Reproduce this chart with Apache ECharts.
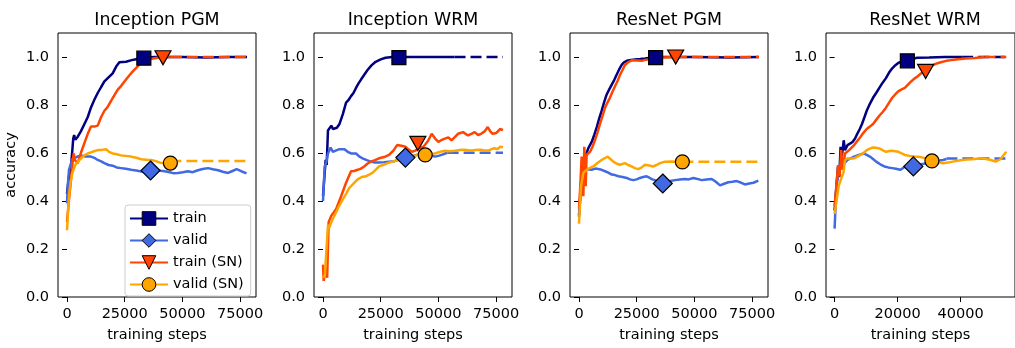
<!DOCTYPE html>
<html><head><meta charset="utf-8">
<script src="https://cdn.jsdelivr.net/npm/echarts@6/dist/echarts.min.js"></script>
<style>html,body{margin:0;padding:0;background:#fff}#c{width:1015px;height:348px}</style>
</head><body><div id="c"></div>
<script>
// ---------- data (training step, accuracy) ----------
const titles = ['Inception PGM', 'Inception WRM', 'ResNet PGM', 'ResNet WRM'];
const seriesNames = ['train', 'valid', 'train (SN)', 'valid (SN)'];
const xTicksLong = [0, 25000, 50000, 75000];
const xTicksShort = [0, 20000, 40000];
const yTicks = [0, 0.2, 0.4, 0.6, 0.8, 1.0];
const xRangeLong = [-3900, 81900];
const xRangeShort = [-2727, 57270];

// Inception PGM
const ipTrain = [[0,0.43],[800,0.5],[1600,0.53],[2300,0.61],[2700,0.66],[3100,0.675],[3600,0.655],[4600,0.667],[6000,0.69],[7500,0.72],[9000,0.75],[10400,0.79],[11900,0.823],[13300,0.85],[14800,0.875],[16200,0.898],[18000,0.915],[19800,0.932],[21300,0.96],[22700,0.978],[25600,0.98],[28000,0.987],[30000,0.991],[32000,0.995],[34000,0.998],[38000,1.0],[50000,1.0],[60000,0.998],[70000,1.0],[78000,1.0]];
const ipTrainExt = null;
const ipValid = [[0,0.39],[400,0.47],[850,0.53],[1500,0.55],[2300,0.575],[3200,0.578],[4500,0.585],[6100,0.59],[8000,0.585],[10400,0.585],[11800,0.58],[13300,0.571],[14800,0.565],[16200,0.558],[18000,0.55],[19800,0.547],[21500,0.54],[23500,0.537],[25500,0.534],[27800,0.53],[30000,0.527],[32200,0.523],[34500,0.52],[37000,0.522],[39500,0.527],[42300,0.524],[44500,0.52],[46000,0.516],[48100,0.517],[50200,0.52],[52400,0.524],[54500,0.52],[56700,0.528],[58800,0.533],[61100,0.537],[63200,0.532],[65500,0.528],[67500,0.522],[69800,0.517],[71700,0.525],[73500,0.533],[75500,0.524],[77800,0.515]];
const ipValidExt = null;
const ipTrainSN = [[0,0.312],[800,0.4],[1600,0.476],[2300,0.55],[2900,0.598],[3500,0.57],[4600,0.557],[6000,0.6],[7500,0.64],[9000,0.68],[10400,0.71],[11800,0.71],[13300,0.714],[14800,0.75],[16200,0.776],[17500,0.79],[19100,0.817],[20500,0.84],[22000,0.864],[23500,0.88],[24900,0.898],[26700,0.92],[28500,0.94],[30000,0.955],[31400,0.969],[33000,0.98],[35000,0.99],[37900,0.995],[40000,0.998],[45000,1.0]];
const ipTrainSNExt = [[45000,1.0],[78000,1.0]];
const ipValidSN = [[0,0.278],[850,0.42],[1600,0.48],[2300,0.517],[3600,0.55],[4800,0.565],[6100,0.578],[7500,0.59],[9000,0.598],[11000,0.605],[13300,0.612],[15000,0.613],[16900,0.616],[18200,0.605],[19800,0.598],[21500,0.595],[23500,0.59],[25500,0.588],[27800,0.585],[30000,0.58],[32200,0.574],[34500,0.572],[36500,0.571],[38500,0.566],[40900,0.558],[42500,0.558],[44800,0.558]];
const ipValidSNExt = [[44800,0.567],[78000,0.567]];

// Inception WRM
const iwTrain = [[0,0.42],[600,0.5],[1150,0.571],[1600,0.55],[2150,0.694],[2800,0.69],[3600,0.714],[4300,0.7],[5000,0.70],[6000,0.705],[7150,0.721],[8600,0.762],[10000,0.81],[11000,0.82],[12150,0.837],[13200,0.85],[14300,0.871],[15400,0.89],[16400,0.905],[17800,0.925],[19300,0.946],[21000,0.965],[22800,0.98],[25000,0.99],[27100,0.997],[30000,1.0],[57000,1.0]];
const iwTrainExt = [[57000,1.0],[78000,1.0]];
const iwValid = [[0,0.40],[730,0.544],[1400,0.56],[2150,0.598],[3300,0.623],[4300,0.605],[5500,0.61],[7150,0.616],[9300,0.616],[10700,0.605],[12150,0.598],[14300,0.598],[15800,0.585],[17100,0.578],[19000,0.57],[20700,0.564],[22500,0.56],[24300,0.56],[26500,0.562],[28600,0.564],[31000,0.566],[33500,0.575],[35700,0.581],[38000,0.585],[40500,0.592],[42800,0.598],[45000,0.595],[46800,0.59],[48500,0.585],[50000,0.588],[51400,0.592],[53500,0.6],[54000,0.601]];
const iwValidExt = [[54000,0.601],[78000,0.601]];
const iwTrainSN = [[0,0.135],[300,0.067],[800,0.1],[1150,0.115],[1800,0.08],[2440,0.312],[3600,0.339],[5700,0.367],[7900,0.421],[10000,0.476],[12150,0.524],[13500,0.525],[15000,0.53],[16400,0.535],[17850,0.544],[19200,0.555],[20700,0.564],[22500,0.57],[24300,0.578],[26500,0.583],[28600,0.592],[30500,0.61],[32100,0.633],[34000,0.63],[35700,0.626],[37000,0.615],[38500,0.605],[40000,0.61],[41500,0.62],[43500,0.626],[45500,0.65],[47100,0.68],[48600,0.66],[50000,0.646],[51500,0.655],[52800,0.66],[54300,0.665],[55700,0.653],[57000,0.665],[58500,0.68],[60700,0.687],[62800,0.673],[64300,0.68],[65700,0.687],[67200,0.675],[68500,0.68],[70000,0.69],[71400,0.708],[72500,0.69],[73500,0.68],[75000,0.683],[76800,0.70],[78000,0.695]];
const iwTrainSNExt = null;
const iwValidSN = [[0,0.08],[800,0.09],[1600,0.085],[2150,0.3],[2800,0.29],[3600,0.312],[4500,0.33],[5700,0.353],[7000,0.38],[8600,0.408],[10000,0.43],[11400,0.455],[13000,0.47],[15000,0.49],[16800,0.5],[18600,0.503],[20000,0.51],[21400,0.517],[22800,0.53],[24300,0.544],[26500,0.552],[28600,0.56],[30500,0.565],[32800,0.571],[35000,0.578],[37100,0.585],[39000,0.588],[41400,0.592],[44300,0.592],[46500,0.596],[48500,0.598],[50500,0.604],[52800,0.609],[55000,0.607],[57100,0.609],[59000,0.612],[61400,0.614],[63500,0.61],[65700,0.612],[68500,0.614],[70000,0.61],[72100,0.612],[74200,0.62],[75500,0.616],[76800,0.626],[78000,0.624]];
const iwValidSNExt = null;

// ResNet PGM
const rpTrain = [[0,0.34],[600,0.42],[1150,0.503],[1900,0.54],[2600,0.571],[3300,0.6],[4000,0.619],[5500,0.646],[6600,0.675],[7700,0.708],[8800,0.745],[9800,0.776],[11000,0.815],[12000,0.844],[13100,0.865],[14200,0.885],[15300,0.905],[16300,0.926],[17400,0.948],[18500,0.967],[19500,0.978],[20700,0.984],[22500,0.988],[24300,0.99],[26500,0.992],[28600,0.994],[31000,0.997],[34000,1.0],[50000,1.0],[65000,0.998],[78000,1.0]];
const rpTrainExt = null;
const rpValid = [[0,0.333],[500,0.42],[1150,0.517],[2600,0.53],[4000,0.532],[5500,0.53],[7000,0.535],[8400,0.533],[9800,0.53],[11300,0.524],[12700,0.518],[14200,0.51],[15600,0.508],[17100,0.503],[18900,0.5],[20700,0.496],[22100,0.49],[23500,0.487],[25000,0.49],[26400,0.496],[27800,0.5],[29300,0.503],[30500,0.497],[31800,0.49],[33500,0.485],[35500,0.48],[37500,0.478],[39500,0.483],[41600,0.487],[43800,0.49],[45900,0.492],[47500,0.49],[49500,0.496],[51300,0.492],[53100,0.487],[55300,0.49],[57500,0.492],[59300,0.48],[61100,0.465],[62900,0.472],[64700,0.478],[66500,0.48],[68300,0.483],[70100,0.477],[71900,0.469],[73800,0.473],[75600,0.476],[77700,0.485]];
const rpValidExt = null;
const rpTrainSN = [[0,0.368],[600,0.47],[1150,0.585],[1500,0.5],[1880,0.42],[2300,0.626],[2600,0.52],[2900,0.462],[3300,0.592],[4000,0.6],[4800,0.605],[5800,0.625],[6900,0.653],[8000,0.685],[9100,0.721],[10200,0.755],[11300,0.789],[12300,0.81],[13400,0.83],[14500,0.855],[15600,0.878],[16700,0.9],[17800,0.926],[18800,0.945],[19900,0.967],[21300,0.978],[22800,0.986],[25000,0.985],[27200,0.984],[28600,0.988],[30100,0.99],[33000,0.997],[36000,0.998],[42000,1.0]];
const rpTrainSNExt = [[42000,1.0],[78000,1.0]];
const rpValidSN = [[0,0.305],[870,0.462],[1880,0.517],[3300,0.53],[4700,0.538],[6200,0.544],[8000,0.558],[9800,0.571],[11100,0.578],[12400,0.585],[13600,0.575],[14900,0.564],[16400,0.555],[17800,0.551],[19900,0.558],[21300,0.55],[22800,0.544],[24200,0.537],[25700,0.533],[27200,0.54],[28600,0.551],[30400,0.548],[32200,0.544],[33600,0.55],[35100,0.558],[37300,0.564],[40000,0.565],[42500,0.564],[44800,0.564]];
const rpValidSNExt = [[44800,0.564],[78000,0.564]];

// ResNet WRM
const rwTrain = [[0,0.36],[500,0.45],[1100,0.544],[1500,0.5],[1900,0.626],[2300,0.585],[2900,0.653],[3300,0.612],[4100,0.633],[5000,0.64],[5700,0.646],[6500,0.66],[7200,0.68],[8000,0.7],[8700,0.721],[9500,0.75],[10200,0.776],[11200,0.805],[12200,0.83],[13200,0.85],[14200,0.871],[15200,0.892],[16300,0.912],[17300,0.935],[18300,0.953],[19300,0.966],[20300,0.976],[21700,0.982],[23100,0.985],[24600,0.992],[26200,0.997],[30000,0.998],[35000,1.0],[40500,1.0]];
const rwTrainExt = [[40500,1.0],[54500,1.0]];
const rwValid = [[0,0.285],[600,0.462],[1600,0.544],[2500,0.55],[3300,0.56],[4100,0.571],[5100,0.578],[6200,0.585],[7700,0.592],[9200,0.598],[10200,0.592],[11200,0.585],[12200,0.575],[13200,0.564],[14500,0.553],[15800,0.544],[17000,0.54],[18300,0.537],[19500,0.534],[20800,0.53],[21500,0.535],[22300,0.544],[23700,0.545],[25100,0.548],[26700,0.552],[28300,0.555],[29500,0.56],[30800,0.564],[32600,0.568],[34500,0.571],[35500,0.575]];
const rwValidExt = [[35500,0.577],[54500,0.577]];
const rwTrainSN = [[0,0.38],[500,0.45],[1100,0.55],[1600,0.503],[2100,0.612],[2600,0.53],[3300,0.598],[4600,0.612],[6200,0.633],[7200,0.65],[8200,0.667],[9200,0.685],[10200,0.70],[11200,0.71],[12200,0.721],[13200,0.738],[14200,0.755],[15200,0.77],[16300,0.789],[17300,0.81],[18300,0.83],[19300,0.845],[20300,0.858],[21300,0.865],[22300,0.871],[23300,0.885],[24300,0.898],[25300,0.91],[26300,0.919],[27300,0.93],[28300,0.942],[29300,0.952],[30400,0.96],[31400,0.967],[32400,0.973],[34000,0.979],[35500,0.984],[37000,0.987],[38500,0.99],[40000,0.992],[41500,0.994],[43000,0.995],[44500,0.996],[46000,0.998],[47600,1.0]];
const rwTrainSNExt = [[47600,1.0],[54500,1.0]];
const rwValidSN = [[0,0.346],[600,0.4],[1300,0.462],[2000,0.49],[2800,0.517],[3300,0.571],[4100,0.578],[5100,0.576],[6200,0.578],[7200,0.585],[8200,0.592],[9200,0.6],[10200,0.612],[11200,0.618],[12200,0.623],[13200,0.622],[14200,0.619],[15200,0.612],[16300,0.605],[17300,0.608],[18300,0.609],[19300,0.607],[20300,0.605],[21300,0.598],[22300,0.592],[23800,0.588],[25400,0.585],[27400,0.583],[29000,0.577],[30900,0.567],[32700,0.562],[34500,0.557],[36000,0.56],[37500,0.564],[39000,0.568],[40500,0.571],[42000,0.573],[43600,0.574],[45100,0.576],[46600,0.578],[48100,0.575],[49600,0.571],[51100,0.564],[52600,0.574],[53700,0.592],[54500,0.605]];
const rwValidSNExt = null;

// marker positions, one per panel
const markTrain = [[33300,0.995],[32900,0.997],[33200,0.997],[23100,0.984]];
const markValid = [[36200,0.527],[35700,0.581],[36300,0.473],[25000,0.544]];
const markTrainSN = [[41600,0.997],[41100,0.64],[41900,1.0],[28900,0.94]];
const markValidSN = [[44800,0.558],[44300,0.592],[44800,0.563],[30900,0.567]];

// ---------- build ----------
const FONT = 'DejaVu Sans';
const COLORS = ['#000080', '#4169e1', '#ff4500', '#ffa500'];
const SYMBOLS = ['rect', 'diamond', 'path://M0,0L2,0L1,1.75Z', 'circle'];
const SIZES = [14, 19, [16, 14], 14];
const LW = 2.5;

const panelSolid = [
  [ipTrain, ipValid, ipTrainSN, ipValidSN],
  [iwTrain, iwValid, iwTrainSN, iwValidSN],
  [rpTrain, rpValid, rpTrainSN, rpValidSN],
  [rwTrain, rwValid, rwTrainSN, rwValidSN]
];
const panelExt = [
  [ipTrainExt, ipValidExt, ipTrainSNExt, ipValidSNExt],
  [iwTrainExt, iwValidExt, iwTrainSNExt, iwValidSNExt],
  [rpTrainExt, rpValidExt, rpTrainSNExt, rpValidSNExt],
  [rwTrainExt, rwValidExt, rwTrainSNExt, rwValidSNExt]
];
const panelMarks = [markTrain, markValid, markTrainSN, markValidSN];

const lefts = [58, 314, 570, 826];
const W = 198, TOP = 33, H = 270;
const txt = { fontFamily: FONT, fontSize: 14.5, color: '#000' };

const grid = [], xAxis = [], yAxis = [], title = [], series = [];
for (let p = 0; p < 4; p++) {
  grid.push({ left: lefts[p], top: TOP, width: W, height: H, show: true,
    borderColor: '#000', borderWidth: 1, backgroundColor: 'rgba(0,0,0,0)' });
  const xt = p === 3 ? xTicksShort : xTicksLong;
  const xr = p === 3 ? xRangeShort : xRangeLong;
  xAxis.push({ type: 'value', gridIndex: p, min: xr[0], max: xr[1],
    axisLine: { show: false },
    axisTick: { show: true, inside: false, length: 5, lineStyle: { color: '#000', width: 1 }, customValues: xt },
    axisLabel: { ...txt, margin: 10, customValues: xt, formatter: v => String(v) },
    splitLine: { show: false },
    name: 'training steps', nameLocation: 'middle', nameGap: 31, nameTextStyle: txt });
  yAxis.push({ type: 'value', gridIndex: p, min: 0, max: 1.1,
    axisLine: { show: false },
    axisTick: { show: true, inside: false, length: 5, lineStyle: { color: '#000', width: 1 }, customValues: yTicks },
    axisLabel: { ...txt, margin: 9, customValues: yTicks, formatter: v => v.toFixed(1) },
    splitLine: { show: false },
    name: p === 0 ? 'accuracy' : '', nameLocation: 'middle', nameGap: 39, nameTextStyle: txt });
  title.push({ text: titles[p], left: lefts[p] + W / 2, textAlign: 'center', top: 12, padding: 0,
    textStyle: { fontFamily: FONT, fontSize: 17.4, fontWeight: 'normal', color: '#000' } });

  for (let k = 0; k < 4; k++) {
    series.push({ type: 'line', name: seriesNames[k], xAxisIndex: p, yAxisIndex: p,
      data: panelSolid[p][k], showSymbol: false, symbol: SYMBOLS[k], symbolSize: 14,
      lineStyle: { color: COLORS[k], width: LW },
      itemStyle: { color: COLORS[k], borderColor: '#000', borderWidth: 1 },
      silent: true, z: 2 });
    if (panelExt[p][k]) {
      series.push({ type: 'line', name: seriesNames[k] + ' ext', xAxisIndex: p, yAxisIndex: p,
        data: panelExt[p][k], showSymbol: false, symbol: 'none',
        lineStyle: { color: COLORS[k], width: LW, type: [11, 5] },
        silent: true, z: 2 });
    }
  }
  for (let k = 0; k < 4; k++) {
    series.push({ type: 'scatter', name: seriesNames[k] + ' marker', xAxisIndex: p, yAxisIndex: p,
      data: [panelMarks[k][p]], symbol: SYMBOLS[k], symbolSize: SIZES[k],
      itemStyle: { color: COLORS[k], borderColor: '#000', borderWidth: 1.2, opacity: 1 },
      silent: true, z: 3 });
  }
}

const chart = echarts.init(document.getElementById('c'), null, { renderer: 'canvas' });
chart.setOption({
  animation: false,
  backgroundColor: '#fff',
  title, grid, xAxis, yAxis, series,
  legend: { data: seriesNames, orient: 'vertical', left: 125, top: 205,
    itemWidth: 38, itemHeight: 17, itemGap: 7, padding: [6, 7, 4, 4],
    borderColor: '#cccccc', borderWidth: 1, borderRadius: 3,
    backgroundColor: 'rgba(255,255,255,0.8)', selectedMode: false,
    itemStyle: { borderColor: '#000', borderWidth: 1 },
    textStyle: { fontFamily: FONT, fontSize: 14.5, color: '#000' } }
});
</script></body></html>
